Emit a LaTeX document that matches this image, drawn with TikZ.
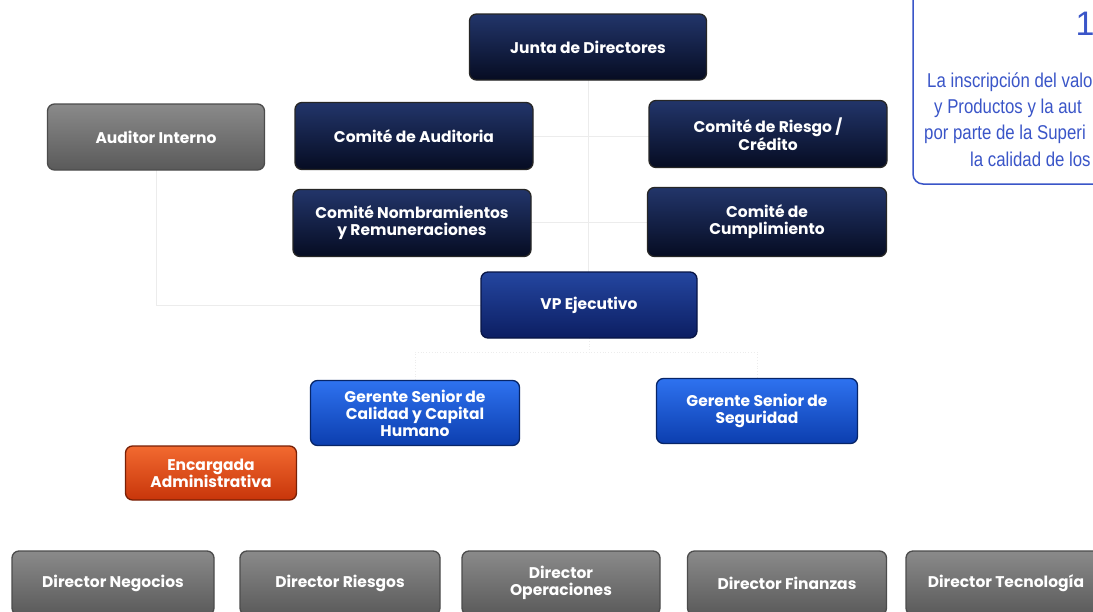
\documentclass[tikz,border=0pt]{standalone}
\usepackage{fontspec}
\setmainfont{Poppins}
\newfontfamily\notefont{Liberation Sans}
\definecolor{navyT}{HTML}{22356A}
\definecolor{navyB}{HTML}{060C22}
\definecolor{vpT}{HTML}{2446A0}
\definecolor{vpB}{HTML}{0C1E62}
\definecolor{gerT}{HTML}{2E72F0}
\definecolor{gerB}{HTML}{0C3EAE}
\definecolor{orT}{HTML}{F26A30}
\definecolor{orB}{HTML}{C8350A}
\definecolor{grT}{HTML}{8A8A8A}
\definecolor{grB}{HTML}{5A5A5A}
\definecolor{noteblue}{HTML}{3A55C8}
\definecolor{lineg}{HTML}{ECECEC}
\tikzset{
  orgbox/.style={rectangle, rounded corners=7pt, line width=1.3pt, text=white,
    font=\fontsize{15.5}{17}\selectfont\bfseries, align=center, inner sep=2pt},
  navybox/.style={orgbox, draw=black!85, top color=navyT, bottom color=navyB},
  vpbox/.style={orgbox, draw=vpB!70!black, top color=vpT, bottom color=vpB},
  gerbox/.style={orgbox, draw=gerB!60!black, top color=gerT, bottom color=gerB},
  orbox/.style={orgbox, draw=orB!60!black, top color=orT, bottom color=orB},
  graybox/.style={orgbox, draw=black!70, top color=grT, bottom color=grB},
  conn/.style={draw=lineg, line width=0.8pt},
  noteline/.style={anchor=west, text=noteblue, inner sep=0pt,
    font=\notefont\fontsize{20}{22}\selectfont},
}
\begin{document}
\begin{tikzpicture}[x=1pt,y=-1pt]
\useasboundingbox (0,0) rectangle (1093,611);
\clip (0,0) rectangle (1093,611);
\fill[white] (0,0) rectangle (1093,611);

% info box (top right, cut off)
\draw[noteblue, line width=1.5pt, rounded corners=10pt] (913,-20) -- (913,184) -- (1120,184);
\node[noteline, anchor=center, font=\notefont\fontsize{34}{36}\selectfont] (num) at (1085,24) {1};
\node[noteline] (n1) at (927,82) {\scalebox{0.84}[1]{La inscripción del valo}};
\node[noteline] (n2) at (934,108) {\scalebox{0.84}[1]{y Productos y la aut}};
\node[noteline] (n3) at (924,134) {\scalebox{0.84}[1]{por parte de la Superi}};
\node[noteline] (n4) at (970,159) {\scalebox{0.84}[1]{la calidad de los}};

% faint connectors
\coordinate (hv) at (589,352);
\draw[conn] (588,80) -- (588,272);
\draw[conn] (533,136) -- (649,136);
\draw[conn] (531,222) -- (648,222);
\draw[conn] (156,170) |- (481,305);
\draw[conn, dotted] (589,338) -- (hv);
\draw[conn, dotted] (415,380) |- (hv) -| (757,378);

% nodes
\node[navybox, minimum width=237pt, minimum height=66pt] (junta) at (588,47) {Junta de Directores};
\node[graybox, minimum width=217pt, minimum height=66pt] (audint) at (156,137) {Auditor Interno};
\node[navybox, minimum width=238pt, minimum height=67pt] (caud) at (414,136) {Comité de Auditoria};
\node[navybox, minimum width=238pt, minimum height=67pt] (criesgo) at (768,134) {Comité de Riesgo /\\Crédito};
\node[navybox, minimum width=238pt, minimum height=67pt] (cnom) at (412,223) {Comité Nombramientos\\y Remuneraciones};
\node[navybox, minimum width=239pt, minimum height=69pt] (ccum) at (767,222) {Comité de\\Cumplimiento};
\node[vpbox, minimum width=216pt, minimum height=66pt] (vp) at (589,305) {VP Ejecutivo};
\node[gerbox, minimum width=209pt, minimum height=65pt] (gcal) at (415,413) {Gerente Senior de\\Calidad y Capital\\Humano};
\node[gerbox, minimum width=201pt, minimum height=65pt] (gseg) at (757,411) {Gerente Senior de\\Seguridad};
\node[orbox, minimum width=171pt, minimum height=54pt] (enc) at (211,473) {Encargada\\Administrativa};

\node[graybox, minimum width=202pt, minimum height=64pt] (dneg) at (113,583) {Director Negocios};
\node[graybox, minimum width=200pt, minimum height=64pt] (dries) at (340,583) {Director Riesgos};
\node[graybox, minimum width=198pt, minimum height=64pt] (dope) at (561,583) {Director\\Operaciones};
\node[graybox, minimum width=199pt, minimum height=64pt] (dfin) at (787,583) {Director Finanzas};
\node[graybox, minimum width=200pt, minimum height=64pt] (dtec) at (1006,583) {Director Tecnología};
\end{tikzpicture}
\end{document}
